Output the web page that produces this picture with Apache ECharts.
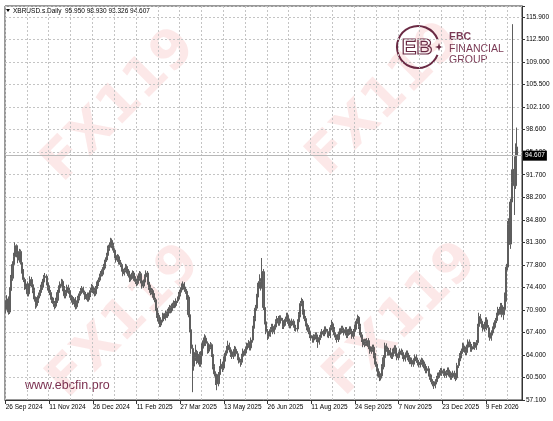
<!DOCTYPE html>
<html>
<head>
<meta charset="utf-8">
<script src="https://cdn.jsdelivr.net/npm/echarts@6/dist/echarts.min.js"></script>
<style>html,body{margin:0;padding:0;background:#fff}#c{width:553px;height:421px}</style>
</head>
<body>
<div id="c"></div>
<script>
// ---- DATA ----
const symbolTitle = 'XBRUSD.s.Daily  95.950 98.930 93.326 94.607';
const startDate = '2024-09-26';
const holidays = ['2024-12-25','2025-01-01','2025-04-18','2025-12-25','2026-01-01'];
const firstOpen = 71.0;
const closes = [
71.8,72.6,70.6,73.9,75.8,77.9,79.1,80.8,79.4,78.6,79.9,78.2,76.9,75.6,74.5,74.9,
73.4,74.6,75.6,74.8,73.9,72.6,71.6,72.4,73.1,73.6,74.4,75.2,75.9,76.1,75.1,74.4,
73.6,72.9,72.4,71.9,71.5,72.4,73.6,74.3,74.9,75.3,74.2,73.1,73.6,74.4,73.9,73.2,
72.8,72.1,72.6,71.4,72.0,72.7,73.4,73.9,74.2,73.6,72.9,73.3,72.5,73.2,73.9,74.5,
73.9,73.4,74.2,74.9,75.5,76.1,76.4,77.1,77.6,78.6,79.3,80.4,80.9,81.6,80.8,80.1,
79.3,78.6,79.1,78.3,77.9,77.2,76.5,77.0,77.6,76.9,76.2,75.6,76.0,76.6,75.8,75.3,
75.0,75.8,76.5,75.4,74.6,75.2,76.0,76.6,75.2,74.4,73.6,73.9,73.2,72.5,71.2,70.1,
69.2,68.6,69.4,70.1,69.6,70.4,70.0,70.7,71.3,70.8,71.5,72.0,71.6,72.3,72.6,73.3,
74.0,74.6,74.9,74.1,73.8,72.9,70.2,67.9,65.0,62.3,63.6,64.4,63.0,64.1,62.6,63.9,
65.4,66.2,66.6,65.8,64.6,65.2,65.6,64.1,62.2,61.1,60.2,59.6,61.0,61.9,62.6,62.0,
63.4,64.3,64.9,65.5,64.8,64.1,63.8,64.5,64.9,64.2,63.6,63.1,62.9,63.8,64.6,64.3,
64.9,65.5,65.8,65.1,66.3,68.1,69.6,71.2,72.9,74.6,75.3,74.6,76.8,71.3,69.1,67.6,
66.9,67.2,67.9,68.4,67.6,68.3,69.1,69.6,68.9,69.7,69.3,68.4,68.9,69.5,70.1,69.2,
68.5,68.9,69.2,68.6,68.1,68.0,69.1,70.2,71.9,72.3,70.6,69.6,68.8,68.2,67.6,67.0,
66.6,66.3,66.8,67.1,66.4,66.0,66.7,67.2,67.6,67.3,68.0,67.6,67.1,67.0,68.2,68.8,
67.9,67.1,66.7,66.4,67.2,67.7,68.1,67.8,67.4,67.9,67.0,67.5,68.0,67.6,66.9,67.6,
68.3,69.2,69.8,68.4,67.1,66.4,65.6,66.1,65.8,66.2,65.3,64.6,64.9,65.2,63.9,62.6,
61.9,61.1,60.6,60.8,62.2,63.6,65.4,64.9,64.3,64.7,64.0,63.8,64.6,65.1,64.2,63.6,
64.1,64.6,64.4,63.8,63.4,64.0,64.3,63.6,63.0,63.2,62.6,63.1,63.7,63.2,62.8,62.5,
62.9,63.2,62.6,62.0,61.6,61.9,61.1,60.6,59.9,59.6,59.3,59.9,60.4,60.9,61.3,61.6,
61.2,61.5,60.9,61.3,61.7,61.1,60.6,60.9,61.2,60.7,60.5,62.4,63.1,63.9,64.6,65.4,
64.9,64.4,65.2,66.0,65.6,64.9,65.3,65.6,65.2,65.9,68.4,69.9,69.2,68.6,68.0,68.7,
69.4,68.2,67.1,66.6,67.4,68.0,68.6,69.3,70.1,71.0,70.6,71.6,70.2,71.0,
72.6,77.5,84.0,81.0,87.5,90.5,92.5,90.0,95.95,94.607
];
const highs = [
72.4,73.2,73.0,74.4,76.3,78.4,79.7,81.3,81.0,79.8,80.3,80.2,78.6,77.2,75.9,75.5,
75.3,75.0,76.1,76.0,75.2,74.3,73.0,72.9,73.6,74.0,74.8,75.7,76.3,76.6,76.4,75.5,
74.7,74.0,73.3,72.8,72.3,72.8,74.0,74.7,75.3,75.7,75.6,74.6,74.0,74.8,74.8,74.3,
73.6,73.1,72.9,72.9,72.4,73.1,73.8,74.3,74.6,74.5,73.9,73.7,73.6,73.6,74.3,74.9,
74.8,74.3,74.6,75.3,75.9,76.5,76.9,77.5,78.0,79.0,79.7,80.8,81.3,82.0,81.9,81.2,
80.4,79.6,79.5,79.4,78.6,78.2,77.5,77.4,78.0,77.9,77.2,76.6,76.4,77.0,76.9,76.1,
75.7,76.2,76.9,76.8,75.8,75.6,76.4,77.0,76.9,75.6,74.8,74.3,74.2,73.5,72.8,71.5,
70.5,69.6,69.8,70.5,70.4,70.8,70.7,71.1,71.7,71.6,71.9,72.4,72.3,72.7,73.0,73.7,
74.4,75.0,75.3,75.2,74.5,74.1,73.2,70.6,68.3,65.6,64.4,65.6,64.8,64.6,64.5,64.6,
65.8,66.7,67.2,67.0,66.1,65.6,66.0,65.8,64.5,62.6,61.5,60.6,61.4,62.3,63.4,63.0,
63.8,64.7,65.4,66.2,65.9,65.2,64.5,64.9,65.4,65.3,64.6,63.9,63.4,64.2,65.0,64.9,
65.3,65.9,66.3,66.1,66.7,68.5,70.0,71.7,73.4,75.1,76.4,75.8,78.9,77.2,71.7,69.5,
68.0,67.6,68.3,68.8,68.8,68.7,69.5,70.0,70.0,70.1,70.1,69.7,69.3,69.9,70.5,70.5,
69.6,69.3,69.6,69.5,69.0,68.5,69.5,70.6,72.3,72.8,72.6,71.0,70.0,69.2,68.6,68.0,
67.4,67.0,67.2,67.5,67.5,66.8,67.1,67.6,68.0,67.9,68.4,68.4,68.0,67.5,68.6,69.4,
69.1,68.3,67.5,67.1,67.6,68.1,68.5,68.5,68.2,68.3,68.3,67.9,68.4,68.4,68.0,68.0,
68.7,69.6,70.2,70.0,68.8,67.5,66.8,66.5,66.5,66.6,66.6,65.7,65.3,65.6,65.6,64.3,
63.0,62.3,61.5,61.2,62.6,64.0,65.9,65.8,65.3,65.1,65.1,64.4,65.0,65.5,65.5,64.6,
64.5,65.0,65.0,64.8,64.2,64.4,64.7,64.7,64.0,63.6,63.6,63.5,64.1,64.1,63.6,63.2,
63.3,63.6,63.5,63.0,62.4,62.3,62.3,61.5,61.0,60.3,60.0,60.3,60.8,61.3,61.7,62.0,
62.0,61.9,61.9,61.7,62.1,62.1,61.5,61.3,61.6,61.6,61.1,62.8,63.5,64.3,65.0,65.9,
65.8,65.3,65.6,66.4,66.4,66.0,65.7,66.0,66.0,66.3,68.8,70.5,70.3,69.6,69.0,69.1,
69.8,69.8,68.6,67.5,67.8,68.4,69.0,69.7,70.5,71.4,71.4,72.0,72.0,71.4,
73.6,78.0,84.6,85.0,88.0,92.5,114.8,94.5,96.5,98.93
];
const lows = [
70.4,71.3,70.2,70.3,73.5,75.4,77.5,78.7,79.0,78.1,78.2,77.9,76.5,75.2,74.0,74.1,
73.0,73.0,74.2,74.4,73.5,72.2,71.1,71.3,72.0,72.7,73.3,74.0,74.8,75.5,74.7,73.9,
73.2,72.5,72.0,71.4,71.0,71.2,72.0,73.2,73.9,74.5,73.8,72.7,72.7,73.3,73.4,72.8,
72.4,71.7,71.8,71.0,71.1,71.7,72.4,73.1,73.6,73.3,72.5,72.6,72.2,72.2,72.9,73.6,
73.5,73.0,73.1,73.9,74.6,75.2,75.8,76.1,76.8,77.3,78.3,79.0,80.0,80.5,80.4,79.7,
78.9,78.2,78.3,77.9,77.5,76.8,76.1,76.2,76.7,76.5,75.9,75.2,75.3,75.7,75.4,74.9,
74.6,74.7,75.4,75.0,74.2,74.3,74.9,75.7,74.8,74.0,73.2,73.3,72.8,72.1,70.8,69.7,
68.8,68.3,68.3,69.0,69.2,69.3,69.7,69.7,70.4,70.4,70.5,71.2,71.2,71.3,72.0,72.3,
73.0,73.6,74.2,73.7,73.4,72.5,69.8,67.5,64.2,58.3,61.6,63.1,62.6,62.8,62.2,62.2,
63.5,65.0,65.8,65.4,64.2,64.3,64.9,63.7,61.8,60.7,59.4,58.6,59.2,60.6,61.5,61.4,
61.7,63.0,63.9,64.5,64.4,63.7,63.4,63.4,64.1,63.8,63.2,62.7,62.2,62.5,63.4,63.9,
63.9,64.5,65.1,64.7,64.7,65.9,67.7,69.2,70.8,72.5,74.2,73.9,74.2,70.9,68.7,67.2,
66.3,66.5,66.8,67.5,67.2,67.2,67.9,68.7,68.5,68.5,68.9,68.0,68.0,68.5,69.1,68.8,
68.1,68.1,68.5,68.2,67.7,67.6,67.6,68.7,69.8,71.5,70.2,69.2,68.4,67.8,67.2,66.6,
66.2,65.9,65.9,66.4,66.0,65.1,65.6,66.3,66.8,66.9,66.9,67.2,66.7,66.6,66.6,67.8,
67.5,66.7,66.3,65.9,66.0,66.8,67.3,67.4,67.0,67.0,66.6,66.6,67.1,67.2,66.5,66.5,
67.2,67.9,68.8,68.0,66.7,66.0,65.2,65.2,65.4,65.4,64.9,64.2,64.2,64.5,63.5,62.2,
61.5,60.7,60.0,60.1,60.4,61.8,63.2,64.5,63.9,63.9,63.6,63.4,63.4,64.2,63.8,63.2,
63.2,63.7,64.0,63.4,63.0,63.0,63.6,63.2,62.6,62.6,62.2,62.2,62.7,62.8,62.4,62.1,
62.1,62.5,62.2,61.6,61.2,61.2,60.7,60.2,59.5,59.2,58.8,58.9,59.5,60.0,60.5,60.9,
60.8,60.8,60.5,60.5,60.9,60.7,60.2,60.2,60.5,60.3,60.0,60.2,62.0,62.7,63.5,64.2,
64.5,64.0,64.0,64.8,65.2,64.5,64.5,64.9,64.8,64.8,65.5,68.0,68.8,68.2,67.6,67.6,
68.3,67.8,66.7,66.2,66.2,67.0,67.6,68.2,68.9,69.7,70.2,70.2,69.8,69.4,
70.5,72.2,77.0,79.5,80.3,81.0,88.0,85.5,89.5,93.326
];
const lastPrice = 94.607;
const yTickLabels = ['57.100','60.500','64.000','67.400','70.900','74.400','77.800','81.300','84.800','88.200','91.700','95.100','98.600','102.100','105.500','109.000','112.500','115.900'];
const priceMin = 57.1, priceStep = (115.9 - 57.1) / 17;
const extraSlots = 3;

// ---- build categories ----
const MONTHS = ['Jan','Feb','Mar','Apr','May','Jun','Jul','Aug','Sep','Oct','Nov','Dec'];
const categories = [];
{
  let d = new Date(startDate + 'T00:00:00Z');
  const total = closes.length + extraSlots;
  while (categories.length < total) {
    const wd = d.getUTCDay();
    const iso = d.toISOString().slice(0, 10);
    if (wd !== 0 && wd !== 6 && holidays.indexOf(iso) < 0) {
      categories.push(d.getUTCDate() + ' ' + MONTHS[d.getUTCMonth()] + ' ' + d.getUTCFullYear());
    }
    d = new Date(d.getTime() + 86400000);
  }
}
const ohlc = closes.map((c, i) => {
  const o = i === 0 ? firstOpen : closes[i - 1];
  const h = Math.max(highs[i], o, c);
  const l = Math.min(lows[i], o, c);
  return [o, c, l, h];
});

// ---- chart ----
const FONT = 'Liberation Sans';
const chart = echarts.init(document.getElementById('c'), null, { renderer: 'canvas' });
const gridTop = 6, gridBottom = 21, plotH = 421 - gridTop - gridBottom;
const pxPerStep = (400 - 17) / 17;
const idxMax = plotH / pxPerStep;
const priceMax = priceMin + idxMax * priceStep;
const maroon = '#6a2a44';
const wm = 'rgba(236,110,110,0.16)';
function wmText(x, y) {
  return { type: 'text', x: x, y: y, rotation: Math.PI * 0.25, z: -10, silent: true,
    style: { text: 'FX119', fill: wm, font: 'bold 54px "DejaVu Sans"', align: 'center', verticalAlign: 'middle' } };
}
chart.setOption({
  animation: false,
  backgroundColor: '#ffffff',
  grid: { left: 5, right: 31, top: gridTop, bottom: gridBottom, show: true, borderColor: '#333', borderWidth: 1, backgroundColor: 'transparent', z: 0 },
  xAxis: {
    type: 'category', data: categories, boundaryGap: true,
    axisLine: { show: true, lineStyle: { color: '#333', width: 1 } },
    axisTick: { show: true, interval: 31, alignWithLabel: true, length: 4, lineStyle: { color: '#333' } },
    axisLabel: { interval: 31, align: 'left', margin: 4, fontSize: 6.5, color: '#000', fontFamily: FONT },
    splitLine: { show: true, interval: 15, lineStyle: { color: '#c4c4c4', type: [2, 2], width: 1 } }
  },
  yAxis: [
    { type: 'value', min: priceMin, max: priceMax, show: false, scale: true, splitLine: { show: false } },
    { type: 'value', min: 0, max: idxMax, interval: 1, position: 'right',
      axisLine: { show: true, lineStyle: { color: '#333' } },
      axisTick: { show: true, length: 3, lineStyle: { color: '#333' } },
      axisLabel: { margin: 4, fontSize: 6.5, color: '#000', fontFamily: FONT,
        formatter: v => (Math.abs(v - Math.round(v)) < 1e-6 && yTickLabels[Math.round(v)]) ? yTickLabels[Math.round(v)] : '' },
      splitLine: { show: true, lineStyle: { color: '#c4c4c4', type: [2, 2], width: 1 } }
    }
  ],
  series: [{
    type: 'candlestick', yAxisIndex: 0, data: ohlc, barWidth: 1.6,
    itemStyle: { color: '#666666', color0: '#666666', borderColor: '#5e5e5e', borderColor0: '#5e5e5e', borderWidth: 1 },
    markLine: {
      silent: true, symbol: ['none', 'none'], animation: false,
      lineStyle: { color: '#b8b8b8', type: 'solid', width: 1 },
      label: { show: true, position: 'end', distance: 1, formatter: lastPrice.toFixed(3), backgroundColor: '#000', color: '#fff', fontSize: 6.5, fontFamily: FONT, padding: [2, 2, 1, 2] },
      data: [{ yAxis: lastPrice }]
    }
  }],
  graphic: [
    wmText(120, 106), wmText(385, 100), wmText(125, 322), wmText(402, 320),
    { type: 'polygon', shape: { points: [[6, 9], [10, 9], [8, 12]] }, style: { fill: '#000' } },
    { type: 'text', x: 13, y: 11, style: { text: symbolTitle, font: '6.5px "' + FONT + '"', fill: '#000', verticalAlign: 'middle' } },
    { type: 'arc', shape: { cx: 418, cy: 47, r: 21, startAngle: 0.38, endAngle: Math.PI * 2 - 0.38, clockwise: true }, style: { stroke: maroon, lineWidth: 2, fill: null } },
    { type: 'text', x: 417, y: 48, style: { text: 'EB', font: 'bold 22px "' + FONT + '"', fill: 'rgba(0,0,0,0)', stroke: maroon, lineWidth: 1.2, align: 'center', verticalAlign: 'middle' } },
    { type: 'polygon', shape: { points: [[439, 43], [440, 46], [443, 47], [440, 48], [439, 51], [438, 48], [435, 47], [438, 46]] }, style: { fill: maroon } },
    { type: 'text', x: 449, y: 37, style: { text: 'EBC', font: 'bold 10.5px "' + FONT + '"', fill: '#7a3a55', verticalAlign: 'middle' } },
    { type: 'text', x: 449, y: 49, style: { text: 'FINANCIAL', font: '10.5px "' + FONT + '"', fill: '#7a3a55', verticalAlign: 'middle' } },
    { type: 'text', x: 449, y: 60, style: { text: 'GROUP', font: '10.5px "' + FONT + '"', fill: '#7a3a55', verticalAlign: 'middle' } },
    { type: 'text', x: 25, y: 386, style: { text: 'www.ebcfin.pro', font: '12.5px "' + FONT + '"', fill: '#7b3050', verticalAlign: 'middle' } }
  ]
});
</script>
</body>
</html>
